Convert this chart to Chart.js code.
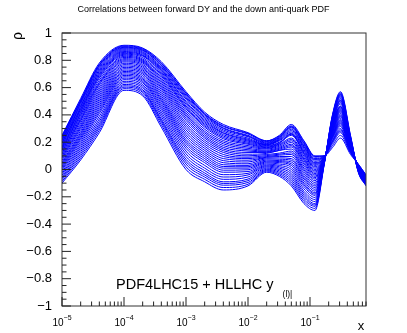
<!DOCTYPE html>
<html>
<head>
<meta charset="utf-8">
<script src="https://cdn.jsdelivr.net/npm/chart.js@4.4.1/dist/chart.umd.min.js"></script>
<style>
  html, body { margin: 0; padding: 0; background: #fff; }
  canvas { display: block; }
</style>
</head>
<body>
<canvas id="chart" width="407" height="333"></canvas>
<script>
const xValues = [1e-5, 2e-5, 4e-5, 1e-4, 2e-4, 4e-4, 1e-3, 2e-3, 4e-3, 1e-2, 2e-2, 3.2e-2, 5e-2, 8e-2, 0.12, 0.17, 0.23, 0.31, 0.45, 0.6, 0.8];

// correlation curves, top of the band at low x first
const rho01 = [0.25, 0.52, 0.78, 0.91, 0.89, 0.79, 0.57, 0.42, 0.33, 0.27, 0.21, 0.25, 0.33, 0.21, 0.10, 0.10, 0.16, 0.23, 0.11, 0.04, -0.04];
const rho02 = [0.245, 0.51, 0.77, 0.905, 0.885, 0.78, 0.56, 0.41, 0.32, 0.265, 0.21, 0.245, 0.32, 0.205, 0.095, 0.10, 0.175, 0.25, 0.12, 0.04, -0.04];
const rho03 = [0.24, 0.505, 0.765, 0.90, 0.88, 0.775, 0.555, 0.405, 0.315, 0.26, 0.205, 0.24, 0.315, 0.195, 0.09, 0.10, 0.19, 0.27, 0.125, 0.035, -0.045];
const rho04 = [0.235, 0.50, 0.76, 0.895, 0.875, 0.765, 0.545, 0.40, 0.305, 0.25, 0.20, 0.235, 0.31, 0.19, 0.08, 0.10, 0.20, 0.28, 0.13, 0.035, -0.045];
const rho05 = [0.23, 0.495, 0.75, 0.89, 0.87, 0.76, 0.535, 0.39, 0.30, 0.245, 0.195, 0.23, 0.305, 0.18, 0.075, 0.095, 0.205, 0.29, 0.135, 0.035, -0.045];
const rho06 = [0.22, 0.485, 0.74, 0.884, 0.862, 0.75, 0.525, 0.38, 0.29, 0.24, 0.19, 0.225, 0.295, 0.17, 0.07, 0.095, 0.21, 0.30, 0.14, 0.03, -0.05];
const rho07 = [0.215, 0.475, 0.73, 0.877, 0.855, 0.74, 0.515, 0.37, 0.28, 0.23, 0.185, 0.22, 0.285, 0.165, 0.06, 0.095, 0.22, 0.315, 0.145, 0.03, -0.05];
const rho08 = [0.21, 0.465, 0.72, 0.87, 0.848, 0.732, 0.50, 0.36, 0.27, 0.222, 0.182, 0.215, 0.275, 0.155, 0.05, 0.09, 0.23, 0.325, 0.148, 0.03, -0.05];
const rho09 = [0.20, 0.455, 0.71, 0.864, 0.84, 0.725, 0.49, 0.35, 0.265, 0.215, 0.18, 0.21, 0.265, 0.145, 0.045, 0.09, 0.235, 0.335, 0.15, 0.03, -0.05];
const rho10 = [0.195, 0.445, 0.70, 0.858, 0.835, 0.715, 0.478, 0.34, 0.255, 0.208, 0.175, 0.20, 0.258, 0.135, 0.038, 0.09, 0.24, 0.342, 0.152, 0.028, -0.052];
const rho11 = [0.19, 0.44, 0.69, 0.851, 0.83, 0.705, 0.465, 0.33, 0.245, 0.20, 0.17, 0.195, 0.25, 0.125, 0.03, 0.09, 0.245, 0.35, 0.155, 0.025, -0.055];
const rho12 = [0.18, 0.43, 0.68, 0.844, 0.82, 0.695, 0.455, 0.32, 0.235, 0.192, 0.165, 0.19, 0.26, 0.118, 0.02, 0.088, 0.25, 0.358, 0.158, 0.025, -0.058];
const rho13 = [0.17, 0.42, 0.67, 0.837, 0.81, 0.685, 0.445, 0.31, 0.225, 0.185, 0.16, 0.185, 0.23, 0.11, 0.01, 0.085, 0.255, 0.365, 0.16, 0.025, -0.06];
const rho14 = [0.162, 0.41, 0.655, 0.829, 0.802, 0.672, 0.43, 0.295, 0.212, 0.175, 0.155, 0.178, 0.22, 0.098, 0.0, 0.085, 0.262, 0.375, 0.165, 0.022, -0.06];
const rho15 = [0.155, 0.40, 0.64, 0.821, 0.795, 0.66, 0.415, 0.28, 0.20, 0.165, 0.15, 0.17, 0.21, 0.085, -0.01, 0.085, 0.27, 0.385, 0.17, 0.02, -0.06];
const rho16 = [0.148, 0.388, 0.63, 0.812, 0.788, 0.648, 0.402, 0.268, 0.188, 0.155, 0.142, 0.162, 0.198, 0.075, -0.02, 0.082, 0.275, 0.392, 0.172, 0.02, -0.062];
const rho17 = [0.14, 0.375, 0.62, 0.804, 0.78, 0.635, 0.39, 0.255, 0.175, 0.145, 0.135, 0.155, 0.185, 0.065, -0.03, 0.08, 0.28, 0.40, 0.175, 0.02, -0.065];
const rho18 = [0.13, 0.365, 0.605, 0.796, 0.77, 0.622, 0.375, 0.242, 0.162, 0.135, 0.13, 0.148, 0.175, 0.052, -0.04, 0.08, 0.285, 0.41, 0.178, 0.018, -0.068];
const rho19 = [0.12, 0.355, 0.59, 0.788, 0.76, 0.61, 0.36, 0.23, 0.15, 0.125, 0.125, 0.14, 0.165, 0.04, -0.05, 0.08, 0.29, 0.42, 0.18, 0.015, -0.07];
const rho20 = [0.11, 0.34, 0.575, 0.778, 0.75, 0.598, 0.342, 0.215, 0.138, 0.112, 0.118, 0.14, 0.15, 0.025, -0.06, 0.078, 0.298, 0.428, 0.185, 0.012, -0.072];
const rho21 = [0.10, 0.325, 0.56, 0.768, 0.74, 0.585, 0.325, 0.20, 0.125, 0.10, 0.11, 0.12, 0.135, 0.01, -0.07, 0.075, 0.305, 0.435, 0.19, 0.01, -0.075];
const rho22 = [0.09, 0.312, 0.545, 0.758, 0.73, 0.57, 0.308, 0.185, 0.11, 0.09, 0.102, 0.112, 0.122, -0.002, -0.082, 0.072, 0.31, 0.442, 0.192, 0.01, -0.078];
const rho23 = [0.08, 0.30, 0.53, 0.748, 0.72, 0.555, 0.29, 0.17, 0.095, 0.08, 0.095, 0.105, 0.11, -0.015, -0.095, 0.07, 0.315, 0.45, 0.195, 0.01, -0.08];
const rho24 = [0.068, 0.285, 0.515, 0.738, 0.71, 0.54, 0.272, 0.155, 0.08, 0.068, 0.09, 0.095, 0.095, -0.03, -0.108, 0.068, 0.32, 0.458, 0.198, 0.008, -0.082];
const rho25 = [0.055, 0.27, 0.50, 0.728, 0.70, 0.525, 0.255, 0.14, 0.065, 0.055, 0.085, 0.085, 0.08, -0.045, -0.12, 0.065, 0.325, 0.465, 0.20, 0.005, -0.085];
const rho26 = [0.045, 0.258, 0.485, 0.718, 0.688, 0.512, 0.238, 0.125, 0.05, 0.042, 0.078, 0.075, 0.068, -0.058, -0.132, 0.065, 0.332, 0.46, 0.202, 0.005, -0.088];
const rho27 = [0.035, 0.245, 0.47, 0.709, 0.675, 0.50, 0.22, 0.11, 0.035, 0.03, 0.07, 0.065, 0.055, -0.07, -0.145, 0.065, 0.34, 0.48, 0.205, 0.005, -0.09];
const rho28 = [0.025, 0.232, 0.455, 0.699, 0.665, 0.485, 0.205, 0.095, 0.022, 0.02, 0.062, 0.058, 0.042, -0.085, -0.158, 0.062, 0.345, 0.49, 0.208, 0.002, -0.092];
const rho29 = [0.015, 0.22, 0.44, 0.689, 0.655, 0.47, 0.19, 0.08, 0.01, 0.01, 0.055, 0.05, 0.03, -0.10, -0.17, 0.06, 0.35, 0.50, 0.21, 0.0, -0.095];
const rho30 = [0.005, 0.205, 0.425, 0.679, 0.645, 0.455, 0.172, 0.065, -0.005, -0.002, 0.048, 0.04, 0.015, -0.112, -0.18, 0.058, 0.355, 0.505, 0.215, 0.0, -0.098];
const rho31 = [-0.005, 0.19, 0.41, 0.669, 0.635, 0.44, 0.155, 0.05, -0.02, -0.015, 0.04, 0.03, 0.0, -0.125, -0.19, 0.055, 0.36, 0.51, 0.22, 0.0, -0.10];
const rho32 = [-0.018, 0.175, 0.39, 0.658, 0.622, 0.422, 0.135, 0.03, -0.038, -0.028, 0.032, 0.02, -0.015, -0.142, -0.205, 0.052, 0.365, 0.52, 0.222, -0.002, -0.102];
const rho33 = [-0.03, 0.16, 0.37, 0.646, 0.61, 0.405, 0.115, 0.01, -0.055, -0.04, 0.025, 0.01, -0.03, -0.16, -0.22, 0.05, 0.37, 0.53, 0.225, -0.005, -0.105];
const rho34 = [-0.042, 0.145, 0.352, 0.635, 0.598, 0.388, 0.095, -0.008, -0.072, -0.055, 0.018, 0.0, -0.045, -0.175, -0.235, 0.05, 0.375, 0.538, 0.228, -0.008, -0.108];
const rho35 = [-0.055, 0.13, 0.335, 0.623, 0.585, 0.37, 0.075, -0.025, -0.09, -0.07, 0.01, -0.01, -0.06, -0.19, -0.25, 0.05, 0.38, 0.545, 0.23, -0.01, -0.11];
const rho36 = [-0.065, 0.115, 0.32, 0.613, 0.575, 0.358, 0.058, -0.04, -0.102, -0.082, 0.002, -0.02, -0.075, -0.205, -0.26, 0.048, 0.385, 0.55, 0.235, -0.012, -0.112];
const rho37 = [-0.075, 0.10, 0.305, 0.603, 0.565, 0.345, 0.04, -0.055, -0.115, -0.095, -0.005, -0.03, -0.09, -0.22, -0.27, 0.045, 0.39, 0.555, 0.24, -0.015, -0.115];
const rho38 = [-0.088, 0.085, 0.288, 0.592, 0.552, 0.328, 0.02, -0.072, -0.132, -0.108, -0.012, -0.04, -0.105, -0.235, -0.285, 0.042, 0.395, 0.562, 0.245, -0.018, -0.118];
const rho39 = [-0.10, 0.07, 0.27, 0.58, 0.54, 0.31, 0.0, -0.09, -0.15, -0.12, -0.02, -0.05, -0.12, -0.25, -0.30, 0.04, 0.40, 0.57, 0.25, -0.02, -0.12];

const curves = [rho01, rho02, rho03, rho04, rho05, rho06, rho07, rho08, rho09, rho10,
                rho11, rho12, rho13, rho14, rho15, rho16, rho17, rho18, rho19, rho20,
                rho21, rho22, rho23, rho24, rho25, rho26, rho27, rho28, rho29, rho30,
                rho31, rho32, rho33, rho34, rho35, rho36, rho37, rho38, rho39];

// axis labels
const yTicks = [-1, -0.8, -0.6, -0.4, -0.2, 0, 0.2, 0.4, 0.6, 0.8, 1];
const xDecades = [-5, -4, -3, -2, -1];

const FONT = '"Liberation Sans", Arial, Helvetica, sans-serif';
Chart.defaults.font.family = FONT;
Chart.defaults.color = '#000';

// ROOT-like frame, inward ticks, decade labels and the extra texts
const rootFrame = {
    id: 'rootFrame',
    afterDatasetsDraw(chart) {
        const { ctx, chartArea: a, scales: { x, y } } = chart;
        ctx.save();
        ctx.strokeStyle = '#333';
        ctx.lineWidth = 1;
        ctx.strokeRect(a.left, a.top, a.right - a.left, a.bottom - a.top);

        ctx.strokeStyle = '#222';
        ctx.beginPath();
        for (let i = -20; i <= 20; i++) {
            const py = y.getPixelForValue(i * 0.05);
            const len = i % 4 === 0 ? 9 : 4.5;
            ctx.moveTo(a.left, py);
            ctx.lineTo(a.left + len, py);
        }
        xDecades.forEach(e => {
            for (let m = 1; m <= 9; m++) {
                const v = m * Math.pow(10, e);
                if (v > x.max) break;
                const px = x.getPixelForValue(v);
                const len = m === 1 ? 9 : 4.5;
                ctx.moveTo(px, a.bottom);
                ctx.lineTo(px, a.bottom - len);
            }
        });
        ctx.stroke();

        ctx.fillStyle = '#000';
        // decade labels 10^n
        ctx.textBaseline = 'alphabetic';
        ctx.textAlign = 'left';
        xDecades.forEach(e => {
            const px = x.getPixelForValue(Math.pow(10, e));
            const exp = '\u2212' + Math.abs(e);
            ctx.font = '10px ' + FONT;
            const wb = ctx.measureText('10').width;
            ctx.font = '7px ' + FONT;
            const we = ctx.measureText(exp).width;
            const x0 = px - (wb + we) / 2;
            ctx.font = '10px ' + FONT;
            ctx.fillText('10', x0, 326);
            ctx.font = '7px ' + FONT;
            ctx.fillText(exp, x0 + wb, 320);
        });

        // title
        ctx.font = '9px ' + FONT;
        ctx.textAlign = 'center';
        ctx.textBaseline = 'middle';
        ctx.fillText('Correlations between forward DY and the down anti-quark PDF', 203.5, 10);

        // axis titles
        ctx.font = '13px ' + FONT;
        ctx.fillText('x', 361, 326);
        ctx.save();
        ctx.translate(18.5, 36);
        ctx.rotate(-Math.PI / 2);
        ctx.font = '14px ' + FONT;
        ctx.fillText('\u03C1', 0, 0);
        ctx.restore();

        // label inside the frame
        ctx.textAlign = 'left';
        ctx.textBaseline = 'alphabetic';
        ctx.font = '14.5px ' + FONT;
        const main = 'PDF4LHC15 + HLLHC y';
        ctx.fillText(main, 116, 289);
        const w = ctx.measureText(main).width;
        ctx.font = '8.5px ' + FONT;
        ctx.fillText('(l)|', 116 + w + 9, 297);
        ctx.restore();
    }
};

const datasets = curves.map(c => ({
    data: c.map((v, i) => ({ x: xValues[i], y: v })),
    borderColor: '#0000ff',
    borderWidth: 1,
    pointRadius: 0,
    fill: false,
    cubicInterpolationMode: 'monotone'
}));

new Chart(document.getElementById('chart'), {
    type: 'line',
    data: { datasets },
    plugins: [rootFrame],
    options: {
        responsive: false,
        animation: false,
        events: [],
        layout: { padding: { top: 33, right: 41, left: 0, bottom: 0 } },
        plugins: { legend: { display: false }, tooltip: { enabled: false } },
        scales: {
            x: {
                type: 'logarithmic',
                min: 1e-5,
                max: 0.8,
                grid: { display: false },
                border: { display: false },
                ticks: { display: false },
                afterFit: s => { s.height = 27; }
            },
            y: {
                min: -1,
                max: 1,
                grid: { display: false },
                border: { display: false },
                afterFit: s => { s.width = 62; },
                afterBuildTicks: s => { s.ticks = yTicks.map(v => ({ value: v })); },
                ticks: {
                    padding: 2,
                    font: { size: 13 },
                    callback: v => {
                        const r = Math.round(v * 10) / 10;
                        return r === 0 ? '0' : String(r).replace('-', '\u2212');
                    }
                }
            }
        }
    }
});
</script>
</body>
</html>
